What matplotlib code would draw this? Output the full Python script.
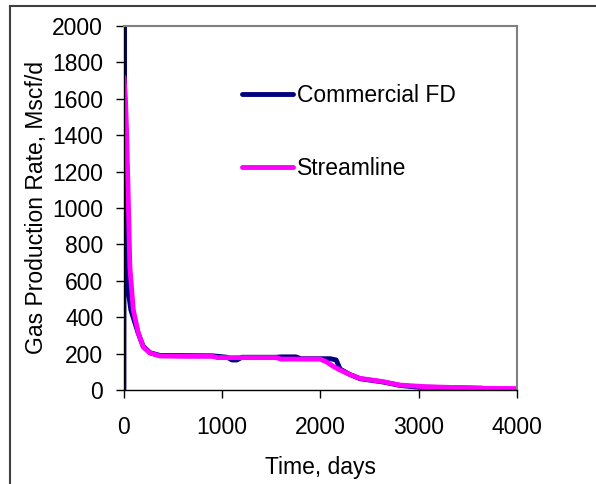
import matplotlib.pyplot as plt
from matplotlib.lines import Line2D

plt.rcParams['font.family'] = ['Liberation Sans', 'DejaVu Sans']

# Commercial FD (Tage, Mscf/d)
t_fd = [0, 3, 8, 18, 40, 70, 146, 196, 265, 366, 900, 1050, 1100, 1150, 1200,
        1550, 1600, 1750, 1800, 2100, 2160, 2200, 2300, 2402, 2636, 2809, 3000,
        3100, 3650]
q_fd = [0, 2300, 1080, 660, 560, 440, 310, 240, 205, 190, 188, 180, 165, 165, 180,
        180, 182, 182, 172, 172, 165, 115, 85, 62, 44, 25, 15, 15, 10]

# Streamline
t_sl = [0, 15, 27, 44, 60, 95, 146, 196, 265, 366, 600, 900, 950, 1550, 1600,
        1995, 2060, 2130, 2198, 2300, 2402, 2636, 2809, 3081, 3656, 4000]
q_sl = [1720, 1600, 1412, 1044, 676, 440, 313, 236, 203, 187, 185, 185, 178, 178,
        170, 170, 155, 130, 110, 85, 64, 46, 27, 18, 9, 8]

fig = plt.figure(figsize=(5.96, 4.84), dpi=100)
ax = fig.add_axes([0.208, 0.1942, 0.6594, 0.7521])

ax.plot(t_fd, q_fd, color='#000080', lw=3.5, label='Commercial FD', solid_capstyle='round')
ax.plot(t_sl, q_sl, color='#FF00FF', lw=3.5, label='Streamline', solid_capstyle='round')

ax.set_xlim(0, 4000)
ax.set_ylim(0, 2000)
ax.set_xticks([0, 1000, 2000, 3000, 4000])
ax.set_yticks(range(0, 2001, 200))
ax.tick_params(direction='out', length=6, width=1, labelsize=16.5, pad=9)
ax.tick_params(axis='x', pad=13)

for s in ['top', 'right']:
    ax.spines[s].set_color('#808080')
    ax.spines[s].set_linewidth(1.5)
for s in ['left', 'bottom']:
    ax.spines[s].set_color('black')
    ax.spines[s].set_linewidth(1)

ax.set_xlabel('Time, days', fontsize=16.5, labelpad=12)
ax.set_ylabel('Gas Production Rate, Mscf/d', fontsize=16.5, labelpad=3)

ax.legend(loc='upper left', bbox_to_anchor=(0.249, 0.898), frameon=False,
          fontsize=16.5, handlelength=2.2, handletextpad=0.2, labelspacing=2.2)

# Rahmen um das Diagramm
fig.add_artist(Line2D([10 / 596, 10 / 596], [0, 1 - 6 / 484], color='#404040', lw=1.5))
fig.add_artist(Line2D([10 / 596, 1], [1 - 6 / 484, 1 - 6 / 484], color='#404040', lw=1.5))

fig.savefig('out.png', dpi=100)
